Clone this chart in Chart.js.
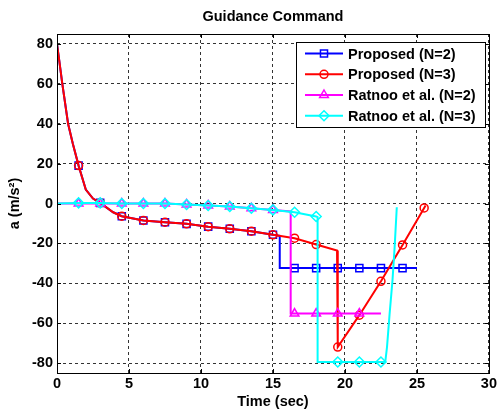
<!DOCTYPE html>
<html>
<head>
<meta charset="utf-8">
<script src="https://cdn.jsdelivr.net/npm/chart.js@4.4.0/dist/chart.umd.min.js"></script>
<style>
  html, body { margin: 0; padding: 0; background: #fff; }
  #wrap { width: 499px; height: 414px; }
</style>
</head>
<body>
<div id="wrap"><canvas id="guidance" width="499" height="414"></canvas></div>
<script>
// values
const xTicks = [0, 5, 10, 15, 20, 25, 30];
const yTicks = [-80, -60, -40, -20, 0, 20, 40, 60, 80];

const proposedN2Time = [0, 0.15, 0.37, 0.77, 1.1, 1.5, 2.0, 2.5, 3.0, 3.9, 4.5, 6, 7.5, 9, 10.5, 12, 13.5, 15, 15.47, 15.47, 16.5, 18, 19.5, 21, 22.5, 24, 25];
const proposedN2Accel = [80, 72, 60, 40, 30, 19, 7, 2.5, 0.3, -4.4, -6.4, -8.5, -9.4, -10.2, -11.6, -12.7, -13.9, -15.7, -16.2, -32.4, -32.4, -32.4, -32.4, -32.4, -32.4, -32.4, -32.4];
const proposedN2Marks = [1.5, 3, 4.5, 6, 7.5, 9, 10.5, 12, 13.5, 15, 16.5, 18, 19.5, 21, 22.5, 24];

const proposedN3Time = [0, 0.15, 0.37, 0.77, 1.1, 1.5, 2.0, 2.5, 3.0, 3.9, 4.5, 6, 7.5, 9, 10.5, 12, 13.5, 15, 16.5, 18, 19.45, 19.5, 21, 22.5, 24, 25.5, 25.6];
const proposedN3Accel = [80, 72, 60, 40, 30, 19, 7, 2.5, 0.3, -4.4, -6.4, -8.5, -9.4, -10.2, -11.6, -12.7, -13.9, -15.7, -17.4, -20.6, -23.6, -72, -56, -39, -20.8, -2.2, -1];
const proposedN3Marks = [1.5, 3, 4.5, 6, 7.5, 9, 10.5, 12, 13.5, 15, 16.5, 18, 19.5, 21, 22.5, 24, 25.5];

const ratnooN2Time = [0, 1.5, 3, 4.5, 6, 7.5, 9, 10.5, 12, 13.5, 15, 16.23, 16.23, 16.5, 18, 19.5, 21, 22.5];
const ratnooN2Accel = [0, 0, 0, 0, 0, 0, -0.5, -1, -1.5, -2.4, -3.2, -4, -55.2, -55.2, -55.2, -55.2, -55.2, -55.2];
const ratnooN2Marks = [1.5, 3, 4.5, 6, 7.5, 9, 10.5, 12, 13.5, 15, 16.5, 18, 19.5, 21];

const ratnooN3Time = [0, 1.5, 3, 4.5, 6, 7.5, 9, 10.5, 12, 13.5, 15, 16.5, 18, 18.1, 18.1, 19.5, 21, 22.5, 22.8, 22.92, 23.1, 23.3, 23.45, 23.6];
const ratnooN3Accel = [0, 0.3, 0.3, 0, 0, 0, -0.5, -1, -1.5, -2.4, -3.2, -4.4, -6.5, -6.8, -79.5, -79.5, -79.5, -79.5, -79.5, -72, -55.5, -38.7, -22, -1.9];
const ratnooN3Marks = [1.5, 3, 4.5, 6, 7.5, 9, 10.5, 12, 13.5, 15, 16.5, 18, 19.5, 21, 22.5];

const FONT = 'bold 14.5px "Liberation Sans", Arial, sans-serif';

const toPoints = (t, a) => t.map((x, i) => ({ x: x, y: a[i] }));
const markRadius = (marks, r) => (ctx) => {
  const p = ctx.raw;
  if (!p) return 0;
  return marks.some(m => Math.abs(m - p.x) < 1e-6) ? r : 0;
};

const makeSet = (label, color, style, r, t, a, marks, order) => ({
  label: label,
  data: toPoints(t, a),
  borderColor: color,
  backgroundColor: 'rgba(0,0,0,0)',
  borderWidth: 2,
  pointStyle: style,
  pointRadius: markRadius(marks, r),
  pointBorderColor: color,
  pointBackgroundColor: 'rgba(0,0,0,0)',
  pointBorderWidth: 1.5,
  pointHoverRadius: 0,
  tension: 0,
  order: order,
  markerSize: r,
});

const datasets = [
  makeSet('Proposed (N=2)', '#0000ff', 'rect', 5, proposedN2Time, proposedN2Accel, proposedN2Marks, 4),
  makeSet('Proposed (N=3)', '#ff0000', 'circle', 4, proposedN3Time, proposedN3Accel, proposedN3Marks, 3),
  makeSet('Ratnoo et al. (N=2)', '#ff00ff', 'triangle', 5, ratnooN2Time, ratnooN2Accel, ratnooN2Marks, 2),
  makeSet('Ratnoo et al. (N=3)', '#00ffff', 'rectRot', 5, ratnooN3Time, ratnooN3Accel, ratnooN3Marks, 1),
];

function drawMarker(ctx, style, x, y, r) {
  ctx.beginPath();
  if (style === 'rect') {
    const s = r * Math.SQRT1_2;
    ctx.rect(x - s, y - s, 2 * s, 2 * s);
  } else if (style === 'circle') {
    ctx.arc(x, y, r, 0, Math.PI * 2);
  } else if (style === 'triangle') {
    ctx.moveTo(x, y - r);
    ctx.lineTo(x + r * 0.866, y + r * 0.5);
    ctx.lineTo(x - r * 0.866, y + r * 0.5);
    ctx.closePath();
  } else if (style === 'rectRot') {
    ctx.moveTo(x, y - r);
    ctx.lineTo(x + r, y);
    ctx.lineTo(x, y + r);
    ctx.lineTo(x - r, y);
    ctx.closePath();
  }
  ctx.stroke();
}

// box, inward ticks, title and legend in the MATLAB look
const matlabFrame = {
  id: 'matlabFrame',
  afterDraw(chart) {
    const ctx = chart.ctx;
    const a = chart.chartArea;
    const xs = chart.scales.x, ys = chart.scales.y;
    ctx.save();
    ctx.strokeStyle = '#000';
    ctx.lineWidth = 1;
    ctx.setLineDash([]);
    ctx.beginPath();
    xTicks.forEach(v => {
      const px = Math.round(xs.getPixelForValue(v)) + 0.5;
      ctx.moveTo(px, a.bottom); ctx.lineTo(px, a.bottom - 4);
      ctx.moveTo(px, a.top); ctx.lineTo(px, a.top + 4);
    });
    yTicks.forEach(v => {
      const py = Math.round(ys.getPixelForValue(v)) + 0.5;
      ctx.moveTo(a.left, py); ctx.lineTo(a.left + 4, py);
      ctx.moveTo(a.right, py); ctx.lineTo(a.right - 4, py);
    });
    ctx.stroke();
    ctx.strokeRect(Math.round(a.left) + 0.5, Math.round(a.top) + 0.5,
      Math.round(a.right - a.left), Math.round(a.bottom - a.top));

    ctx.fillStyle = '#000';
    ctx.font = FONT;
    ctx.textAlign = 'center';
    ctx.textBaseline = 'middle';
    ctx.fillText('Guidance Command', (a.left + a.right) / 2, 17);

    // legend
    const lx = 296, ly = 42, lw = 189, lh = 85;
    ctx.fillStyle = '#fff';
    ctx.fillRect(lx, ly, lw, lh);
    ctx.strokeStyle = '#000';
    ctx.strokeRect(lx + 0.5, ly + 0.5, lw, lh);
    const rows = [53.5, 74.3, 95, 115.7];
    chart.data.datasets.forEach((ds, i) => {
      const y = rows[i];
      ctx.strokeStyle = ds.borderColor;
      ctx.lineWidth = 2;
      ctx.beginPath();
      ctx.moveTo(305, y); ctx.lineTo(343, y);
      ctx.stroke();
      ctx.lineWidth = 1.5;
      drawMarker(ctx, ds.pointStyle, 324, y, ds.markerSize);
      ctx.fillStyle = '#000';
      ctx.textAlign = 'left';
      ctx.fillText(ds.label, 348, y + 1);
    });
    ctx.restore();
  }
};

Chart.defaults.font.family = '"Liberation Sans", Arial, sans-serif';
Chart.defaults.font.size = 14.5;
Chart.defaults.font.weight = 'bold';
Chart.defaults.color = '#000';

const gridStyle = {
  color: 'rgba(0,0,0,0.8)',
  lineWidth: 1,
  drawTicks: false,
};

new Chart(document.getElementById('guidance'), {
  type: 'line',
  data: { datasets: datasets },
  options: {
    responsive: false,
    animation: false,
    events: [],
    layout: { padding: { top: 34, right: 9, left: 0, bottom: 0 } },
    plugins: {
      legend: { display: false },
      title: { display: false },
      tooltip: { enabled: false },
    },
    scales: {
      x: {
        type: 'linear',
        min: 0,
        max: 30,
        grid: gridStyle,
        border: { display: false, dash: [3, 3] },
        afterBuildTicks: (s) => { s.ticks = xTicks.map(v => ({ value: v })); },
        afterFit: (s) => { s.height = 41; },
        ticks: { padding: 2, maxRotation: 0 },
        title: { display: true, text: 'Time (sec)', padding: { top: 0, bottom: 3 } },
      },
      y: {
        type: 'linear',
        min: -85,
        max: 85,
        grid: gridStyle,
        border: { display: false, dash: [3, 3] },
        afterBuildTicks: (s) => { s.ticks = yTicks.map(v => ({ value: v })); },
        afterFit: (s) => { s.width = 57; },
        ticks: { padding: 4 },
        title: { display: true, text: 'a (m/s\u00b2)', padding: { top: 6, bottom: 0 } },
      },
    },
  },
  plugins: [matlabFrame],
});
</script>
</body>
</html>
